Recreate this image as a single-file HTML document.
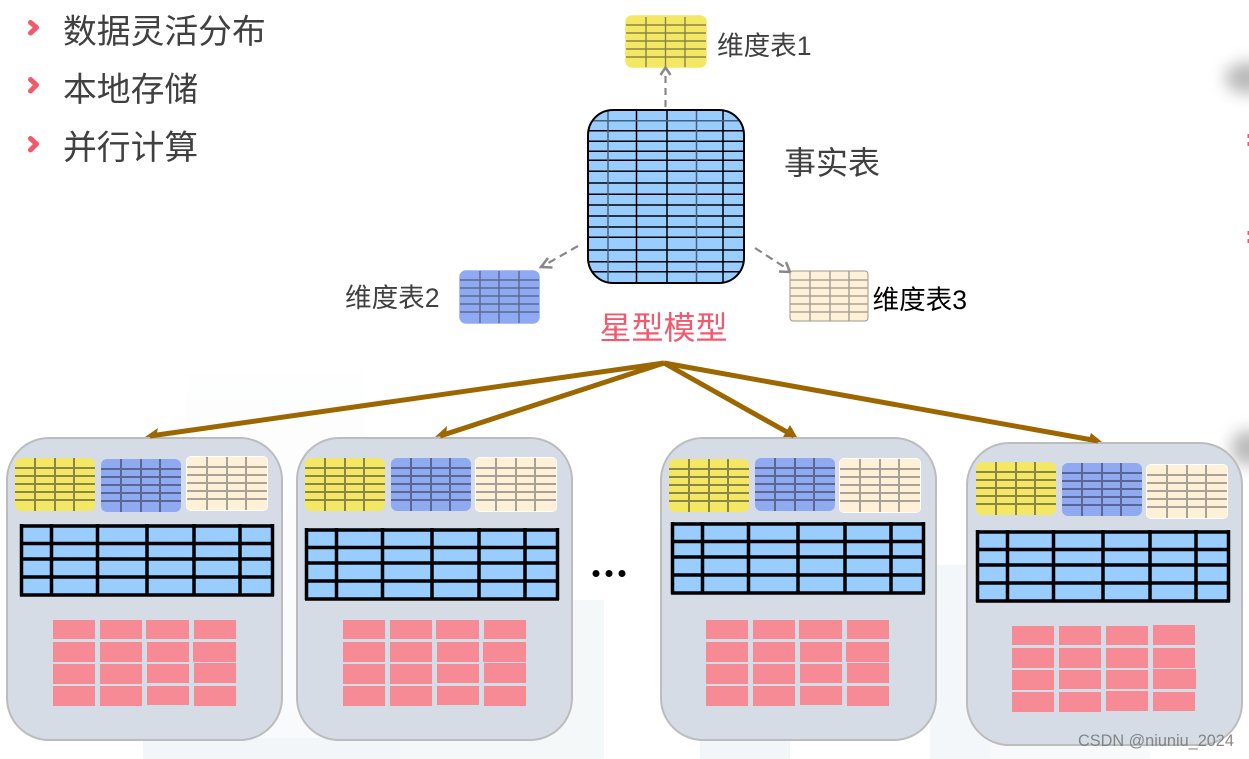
<!DOCTYPE html>
<html><head><meta charset="utf-8"><style>
html,body{margin:0;padding:0;background:#fff}
svg{display:block;position:absolute;left:0;top:0}
text{font-family:"Liberation Sans","Noto Sans CJK SC",sans-serif}
</style></head><body>
<svg width="1249" height="759" viewBox="0 0 1249 759" xmlns="http://www.w3.org/2000/svg">
<defs>
<linearGradient id="bg" x1="0" y1="0" x2="0" y2="1"><stop offset="0" stop-color="#fdfdfe"/><stop offset="1" stop-color="#eef3f6"/></linearGradient>
<filter id="bl" x="-150%" y="-150%" width="400%" height="400%"><feGaussianBlur stdDeviation="8"/></filter>
<g id="grid" fill="none">
<path d="M20 0V53M40 0V53M59 0V53M0 10H80M0 18H80M0 26H80M0 34H80M0 42H80"/>
</g>
<g id="ty"><rect width="80" height="53" rx="6" fill="#f4e764"/><use href="#grid" stroke="#8a8548" stroke-width="2"/></g>
<g id="tb"><rect width="80" height="53" rx="6" fill="#8faaf0"/><use href="#grid" stroke="#5a6792" stroke-width="2"/></g>
<g id="tc"><rect x="-1" y="-1" width="82" height="55" rx="5" fill="#fff"/><rect width="80" height="53" rx="3" fill="#fff1d8"/><use href="#grid" stroke="#a8a296" stroke-width="2"/></g>
<g id="fact">
<rect x="0" y="0" width="254" height="72" fill="#99ccff"/>
<path d="M1.500 0V72M31.500 0V72M77.500 0V72M127 0V72M174 0V72M220 0V72M252.500 0V72M0 2H254M0 19.500H254M0 35H254M0 53H254M0 71H254" fill="none" stroke="#000" stroke-width="3.500"/>
</g>
<g id="pink" fill="#f78b95">
<rect x="0" y="0" width="42" height="19"/><rect x="47" y="0" width="42" height="19"/><rect x="93" y="0" width="43" height="19"/><rect x="141" y="0" width="42" height="19"/>
<rect x="0" y="22" width="42" height="20"/><rect x="47" y="22" width="42" height="20"/><rect x="94" y="22" width="42" height="20"/><rect x="140" y="22" width="43" height="20"/>
<rect x="0" y="44" width="42" height="20"/><rect x="47" y="44" width="42" height="20"/><rect x="94" y="44" width="42" height="19"/><rect x="141" y="43" width="42" height="20"/>
<rect x="0" y="66" width="42" height="20"/><rect x="47" y="66" width="42" height="20"/><rect x="94" y="66" width="42" height="19"/><rect x="141" y="66" width="42" height="20"/>
</g>
<g id="pink4" fill="#f78b95">
<rect x="0" y="0" width="42" height="19"/><rect x="47" y="0" width="42" height="19"/><rect x="94" y="0" width="42" height="19"/><rect x="141" y="-1" width="42" height="20"/>
<rect x="0" y="22" width="42" height="20"/><rect x="47" y="22" width="42" height="20"/><rect x="94" y="22" width="42" height="20"/><rect x="141" y="22" width="42" height="20"/>
<rect x="0" y="44" width="42" height="20"/><rect x="47" y="44" width="42" height="19"/><rect x="94" y="44" width="42" height="19"/><rect x="141" y="43" width="43" height="20"/>
<rect x="0" y="66" width="42" height="20"/><rect x="47" y="66" width="42" height="20"/><rect x="94" y="65" width="42" height="20"/><rect x="141" y="66" width="42" height="19"/>
</g>
<rect id="card" x="0" y="0" width="275" height="302" rx="42" fill="#d6dce6" stroke="#bcbcbc" stroke-width="2"/>
</defs>

<rect width="1249" height="759" fill="#fff"/>
<g opacity=".6">
<rect x="185" y="370" width="180" height="389" fill="url(#bg)" opacity=".6"/>
<rect x="143" y="738" width="260" height="21" fill="#e9f1f4"/>
<rect x="400" y="600" width="204" height="159" fill="#edf3f6"/>
<rect x="700" y="738" width="90" height="21" fill="#e9f1f4"/>
<rect x="930" y="565" width="60" height="194" fill="#edf2f5"/>
<rect x="990" y="742" width="160" height="17" fill="#f3f6f8"/>
</g>
<ellipse cx="1249" cy="78" rx="24" ry="16" fill="#8a8a8a" opacity=".6" filter="url(#bl)"/>
<ellipse cx="1249" cy="448" rx="18" ry="18" fill="#808080" opacity=".55" filter="url(#bl)"/>
<path d="M1248.500 134v4M1248.500 142v4M1248.500 231v4M1248.500 239v4" stroke="#f0566a" stroke-width="2" fill="none"/>

<!-- list -->
<g fill="none" stroke="#f05a6c" stroke-width="5" stroke-linecap="round" stroke-linejoin="round">
<path d="M30.500 22.500L36.500 27.500L30.500 33"/><path d="M30.500 79.500L36.500 85L30.500 91"/><path d="M30.500 138.500L36.500 144L30.500 150"/>
</g>
<g font-size="33.800" fill="#404040">
<text x="63" y="43">数据灵活分布</text>
<text x="63" y="101">本地存储</text>
<text x="63" y="159">并行计算</text>
</g>

<!-- star model -->
<g transform="translate(626,16)"><rect x="0" y="0" width="80" height="51" rx="6" fill="#f4e764" stroke="#f4e764" stroke-width="1.500"/><path d="M20 1V51M39.500 1V51M59 1V51M0 9H80M0 17H80M0 25H80M0 33H80M0 41H80" stroke="#8a8548" stroke-width="1.400" fill="none"/></g>
<text x="717" y="55" font-size="26.600" fill="#404040">维度表1</text>

<g stroke="#888" stroke-width="2.200" fill="none">
<path d="M665.500 107V72" stroke-dasharray="7 5"/><path d="M660.500 75l5-7.500 5 7.500" stroke-width="2.500"/>
<path d="M578 246L543 266" stroke-dasharray="8 5"/><path d="M548 258l-7 9 11.500 .5" stroke-width="2.500"/>
<path d="M755 248L789 270" stroke-dasharray="8 5"/><path d="M779 271.500l11 .5-4-10" stroke-width="2.500"/>
</g>

<clipPath id="fc"><rect x="588" y="110" width="156" height="173" rx="25"/></clipPath>
<rect x="588" y="110" width="156" height="173" rx="25" fill="#99ccff"/>
<g clip-path="url(#fc)" fill="none" stroke-width="1.500">
<path d="M588 141.300H744M588 151.300H744M588 160.300H744M588 171.300H744M588 183H744M588 194.300H744M588 205H744M588 216H744M588 227H744M588 237.300H744M588 250H744M588 261.700H744M588 271.700H744M588 130.700H744M636.500 110V283M667 110V283M723 110V283" stroke="#000"/>
<path d="M608 110V283M696.500 110V283M588 120.700H744" stroke="#44607e"/>
</g>
<rect x="588" y="110" width="156" height="173" rx="25" fill="none" stroke="#000" stroke-width="2"/>
<text x="784" y="174" font-size="32" fill="#404040">事实表</text>

<g transform="translate(460,271)"><rect width="79" height="52" rx="6" fill="#8faaf0" stroke="#8faaf0" stroke-width="1.500"/><path d="M20 0V52M39 0V52M59 0V52M0 9H79M0 17H79M0 25H79M0 33H79M0 41H79" stroke="#5a6792" stroke-width="1.400" fill="none"/></g>
<text x="345" y="307" font-size="26.600" fill="#404040">维度表2</text>
<g transform="translate(790,271)"><rect width="78" height="50" rx="3" fill="#fff1d8" stroke="#9c978c"/><path d="M20 0V50M40 0V50M59 0V50M0 9H78M0 17H78M0 25H78M0 33H78M0 41H78" stroke="#a8a296" stroke-width="1.500" fill="none"/></g>
<text x="872.500" y="309" font-size="26.600" fill="#000">维度表3</text>
<text x="599.500" y="339" font-size="32" fill="#f0596e">星型模型</text>

<!-- cards -->
<use href="#card" x="7" y="438"/>
<use href="#ty" x="15" y="458"/><use href="#tb" x="101" y="459"/><use href="#tc" x="187" y="457"/>
<use href="#fact" x="20" y="524"/>
<use href="#pink" x="53" y="620"/>

<use href="#card" x="297" y="438"/>
<use href="#ty" x="305" y="458"/><use href="#tb" x="391" y="458"/><use href="#tc" x="476" y="458"/>
<use href="#fact" x="305" y="528"/>
<use href="#pink" x="343" y="620"/>

<use href="#card" x="661" y="438"/>
<use href="#ty" x="669" y="459"/><use href="#tb" x="755" y="458"/><use href="#tc" x="840" y="459"/>
<use href="#fact" x="671" y="522"/>
<use href="#pink" x="706" y="620"/>

<use href="#card" x="967" y="443"/>
<use href="#ty" x="976" y="462"/><use href="#tb" x="1062" y="463"/><use href="#tc" x="1147" y="465"/>
<use href="#fact" x="976" y="530"/>
<use href="#pink4" x="1012" y="626"/>

<!-- arrows -->
<g stroke="#9c6700" stroke-width="5" fill="none">
<path d="M664 363L150 436"/><path d="M664 363L440 436"/><path d="M664 363L794 436"/><path d="M664 363L1098 441"/>
</g>
<g fill="#9c6700">
<path d="M145 437L158 428L156 437z"/><path d="M435 437L447 426L446 436z"/><path d="M797 437L783 437L790 425z"/><path d="M1102 442L1088 442L1091 433z"/>
</g>
<g fill="#000"><circle cx="596" cy="573.500" r="3.500"/><circle cx="609" cy="573.500" r="3.500"/><circle cx="622" cy="573.500" r="3.500"/></g>

<text x="1078" y="746" font-size="16.300" fill="#7c7c7c" opacity=".9">CSDN @niuniu_2024</text>
</svg>
</body></html>
